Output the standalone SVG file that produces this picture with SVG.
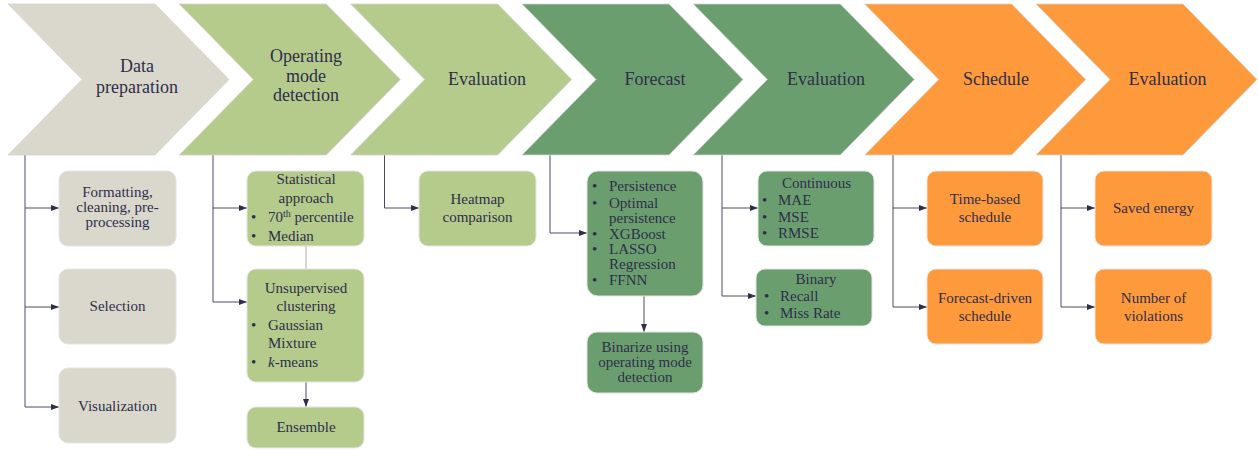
<svg xmlns="http://www.w3.org/2000/svg" width="1258" height="450" viewBox="0 0 1258 450">
<defs>
<style>
.t{font-family:"Liberation Serif","DejaVu Serif",serif;fill:#2E2E4A}
.h{font-size:18px;text-anchor:middle}
.b{font-size:15px}
.m{text-anchor:middle}
.chev{stroke:#d4d4d4;stroke-width:0.8}
.box{stroke:#e4e4e4;stroke-width:1}
.gray{fill:#DAD8CC}
.lg{fill:#B5CB8C}
.dg{fill:#6B9E6F}
.or{fill:#FF9A3C}
.con{fill:none;stroke:#4A4A68;stroke-width:1}
</style>
<marker id="arr" markerUnits="userSpaceOnUse" viewBox="0 0 8 6" refX="8" refY="3" markerWidth="8" markerHeight="6" orient="auto">
<path d="M0,0 L8,3 L0,6 z" fill="#2E2E4A"/>
</marker>
</defs>

<g id="connectors">
<path class="con" d="M25,155 V407"/>
<path class="con" d="M25,208 H59" marker-end="url(#arr)"/>
<path class="con" d="M25,307 H59" marker-end="url(#arr)"/>
<path class="con" d="M25,407 H59" marker-end="url(#arr)"/>
<path class="con" d="M213,155 V302"/>
<path class="con" d="M213,208 H247" marker-end="url(#arr)"/>
<path class="con" d="M213,302 H247" marker-end="url(#arr)"/>
<path d="M306,246 V269" stroke="#BBBBBB" stroke-width="1.2" fill="none"/>
<path class="con" d="M306,382 V407" marker-end="url(#arr)"/>
<path class="con" d="M384.5,155 V208 H419" marker-end="url(#arr)"/>
<path class="con" d="M550,155 V233 H587" marker-end="url(#arr)"/>
<path class="con" d="M644,296 V332" marker-end="url(#arr)"/>
<path class="con" d="M722,155 V296"/>
<path class="con" d="M722,208 H758" marker-end="url(#arr)"/>
<path class="con" d="M722,296 H756" marker-end="url(#arr)"/>
<path class="con" d="M893,155 V307"/>
<path class="con" d="M893,208 H927" marker-end="url(#arr)"/>
<path class="con" d="M893,307 H927" marker-end="url(#arr)"/>
<path class="con" d="M1061,155 V307"/>
<path class="con" d="M1061,208 H1095" marker-end="url(#arr)"/>
<path class="con" d="M1061,307 H1095" marker-end="url(#arr)"/>
</g>

<g id="stage-data-preparation">
<polygon class="chev gray" points="8,4 155,4 229,79.5 155,155 8,155 82,79.5"/>
<text class="t h" x="137" y="72">Data</text>
<text class="t h" x="137" y="93">preparation</text>
</g>
<g id="stage-operating-mode">
<polygon class="chev lg" points="179.3,4 326.3,4 400.3,79.5 326.3,155 179.3,155 253.3,79.5"/>
<text class="t h" x="306" y="62">Operating</text>
<text class="t h" x="306" y="82">mode</text>
<text class="t h" x="306" y="101">detection</text>
</g>
<g id="stage-evaluation-1">
<polygon class="chev lg" points="350.7,4 497.7,4 571.7,79.5 497.7,155 350.7,155 424.7,79.5"/>
<text class="t h" x="487" y="85">Evaluation</text>
</g>
<g id="stage-forecast">
<polygon class="chev dg" points="522,4 669,4 743,79.5 669,155 522,155 596,79.5"/>
<text class="t h" x="655" y="85">Forecast</text>
</g>
<g id="stage-evaluation-2">
<polygon class="chev dg" points="693.3,4 840.3,4 914.3,79.5 840.3,155 693.3,155 767.3,79.5"/>
<text class="t h" x="826" y="85">Evaluation</text>
</g>
<g id="stage-schedule">
<polygon class="chev or" points="864.7,4 1011.7,4 1085.7,79.5 1011.7,155 864.7,155 938.7,79.5"/>
<text class="t h" x="996" y="85">Schedule</text>
</g>
<g id="stage-evaluation-3">
<polygon class="chev or" points="1036,4 1183,4 1257,79.5 1183,155 1036,155 1110,79.5"/>
<text class="t h" x="1167.5" y="85">Evaluation</text>
</g>

<g id="box-formatting">
<rect class="box gray" x="59" y="171" width="117" height="75" rx="9"/>
<text class="t b m" x="117.5" y="197">Formatting,</text>
<text class="t b m" x="117.5" y="212">cleaning, pre-</text>
<text class="t b m" x="117.5" y="227">processing</text>
</g>
<g id="box-selection">
<rect class="box gray" x="59" y="269" width="117" height="75" rx="9"/>
<text class="t b m" x="117.5" y="311">Selection</text>
</g>
<g id="box-visualization">
<rect class="box gray" x="59" y="368" width="117" height="75" rx="9"/>
<text class="t b m" x="117.5" y="411">Visualization</text>
</g>

<g id="box-statistical">
<rect class="box lg" x="247" y="171" width="117" height="75" rx="9"/>
<text class="t b m" x="306" y="184">Statistical</text>
<text class="t b m" x="306" y="203">approach</text>
<text class="t b" x="251" y="222">•</text>
<text class="t b" x="268" y="222">70<tspan font-size="10" dy="-5">th</tspan><tspan dy="5"> percentile</tspan></text>
<text class="t b" x="251" y="241">•</text>
<text class="t b" x="268" y="241">Median</text>
</g>
<g id="box-unsupervised">
<rect class="box lg" x="247" y="269" width="117" height="113" rx="9"/>
<text class="t b m" x="306" y="293">Unsupervised</text>
<text class="t b m" x="306" y="311">clustering</text>
<text class="t b" x="251" y="330">•</text>
<text class="t b" x="268" y="330">Gaussian</text>
<text class="t b" x="268" y="348">Mixture</text>
<text class="t b" x="251" y="367">•</text>
<text class="t b" x="268" y="367"><tspan font-style="italic">k</tspan>-means</text>
</g>
<g id="box-ensemble">
<rect class="box lg" x="247" y="407" width="117" height="41" rx="9"/>
<text class="t b m" x="306" y="432">Ensemble</text>
</g>

<g id="box-heatmap">
<rect class="box lg" x="419" y="171" width="117" height="75" rx="9"/>
<text class="t b m" x="477.5" y="204">Heatmap</text>
<text class="t b m" x="477.5" y="222">comparison</text>
</g>

<g id="box-forecast-models">
<rect class="box dg" x="587" y="171" width="116" height="125" rx="11"/>
<text class="t b" x="592" y="191">•</text>
<text class="t b" x="609" y="191">Persistence</text>
<text class="t b" x="592" y="208">•</text>
<text class="t b" x="609" y="208">Optimal</text>
<text class="t b" x="609" y="223">persistence</text>
<text class="t b" x="592" y="239">•</text>
<text class="t b" x="609" y="239">XGBoost</text>
<text class="t b" x="592" y="254">•</text>
<text class="t b" x="609" y="254">LASSO</text>
<text class="t b" x="609" y="269">Regression</text>
<text class="t b" x="592" y="285">•</text>
<text class="t b" x="609" y="285">FFNN</text>
</g>
<g id="box-binarize">
<rect class="box dg" x="587" y="332" width="116" height="61" rx="10"/>
<text class="t b m" x="645" y="352">Binarize using</text>
<text class="t b m" x="645" y="367">operating mode</text>
<text class="t b m" x="645" y="382">detection</text>
</g>

<g id="box-continuous">
<rect class="box dg" x="758" y="171" width="116" height="75" rx="9"/>
<text class="t b m" x="816.5" y="188">Continuous</text>
<text class="t b" x="762" y="205">•</text>
<text class="t b" x="778" y="205">MAE</text>
<text class="t b" x="762" y="222">•</text>
<text class="t b" x="778" y="222">MSE</text>
<text class="t b" x="762" y="238">•</text>
<text class="t b" x="778" y="238">RMSE</text>
</g>
<g id="box-binary">
<rect class="box dg" x="756" y="269" width="116" height="57" rx="9"/>
<text class="t b m" x="816" y="284">Binary</text>
<text class="t b" x="764" y="301">•</text>
<text class="t b" x="780" y="301">Recall</text>
<text class="t b" x="764" y="318">•</text>
<text class="t b" x="780" y="318">Miss Rate</text>
</g>

<g id="box-time-based">
<rect class="box or" x="927" y="171" width="116" height="75" rx="9"/>
<text class="t b m" x="985" y="204">Time-based</text>
<text class="t b m" x="985" y="222">schedule</text>
</g>
<g id="box-forecast-driven">
<rect class="box or" x="927" y="269" width="116" height="75" rx="9"/>
<text class="t b m" x="985" y="303">Forecast-driven</text>
<text class="t b m" x="985" y="321">schedule</text>
</g>

<g id="box-saved-energy">
<rect class="box or" x="1095" y="171" width="117" height="75" rx="9"/>
<text class="t b m" x="1153.5" y="213">Saved energy</text>
</g>
<g id="box-violations">
<rect class="box or" x="1095" y="269" width="117" height="75" rx="9"/>
<text class="t b m" x="1153.5" y="303">Number of</text>
<text class="t b m" x="1153.5" y="321">violations</text>
</g>
</svg>
